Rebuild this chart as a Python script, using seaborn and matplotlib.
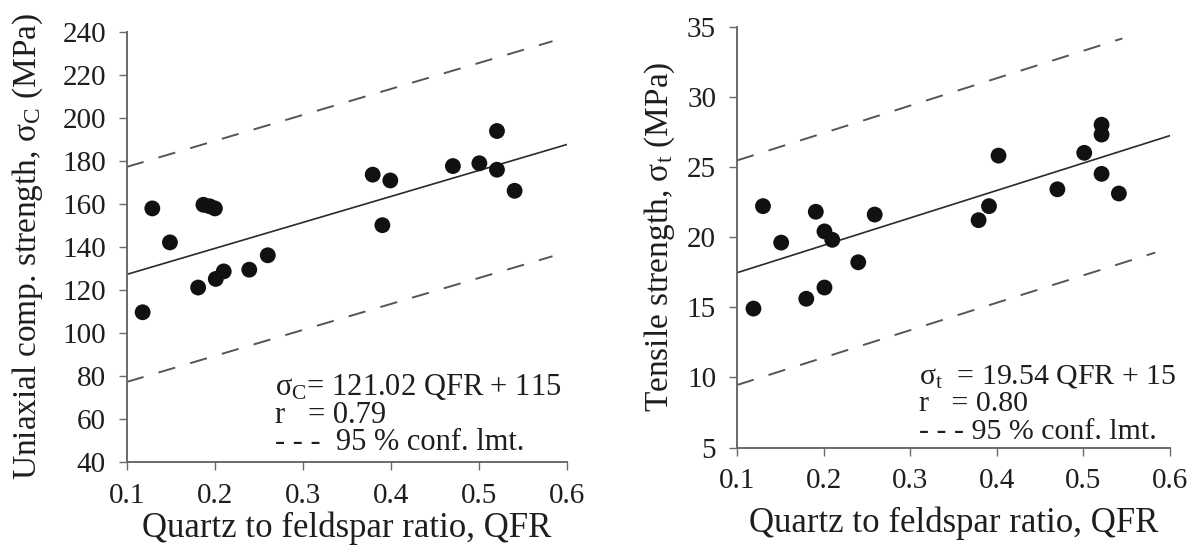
import numpy as np
import pandas as pd
import matplotlib
matplotlib.use("Agg")
import matplotlib.pyplot as plt
import seaborn as sns

# ---------------- data ----------------
qfr_c = [0.118, 0.129, 0.149, 0.181, 0.187, 0.194, 0.200, 0.201, 0.210, 0.239,
         0.260, 0.379, 0.390, 0.399, 0.470, 0.500, 0.520, 0.520, 0.540]
ucs = [109.5, 157.8, 142.0, 121.0, 159.5, 158.8, 157.8, 125.0, 128.5, 129.3,
       136.0, 173.5, 150.0, 170.8, 177.5, 178.8, 193.8, 175.8, 166.0]

qfr_t = [0.119, 0.130, 0.151, 0.180, 0.191, 0.201, 0.201, 0.210, 0.240, 0.259,
         0.379, 0.391, 0.402, 0.470, 0.501, 0.521, 0.521, 0.521, 0.541]
ts = [14.9, 22.2, 19.6, 15.6, 21.8, 20.4, 16.4, 19.8, 18.2, 21.6,
      21.2, 22.2, 25.8, 23.4, 26.0, 28.0, 27.3, 24.5, 23.1]

# regression: slope, intercept (as drawn), conf. offset
fit_c = [121.02, 115.0, 50.0]
fit_t = [19.54, 15.5, 8.0]
# x-extent of fit line and of upper/lower confidence lines
ext_c = [0.1, 0.6, 0.583, 0.583]
ext_t = [0.1, 0.6, 0.545, 0.583]

xticks = [0.1, 0.2, 0.3, 0.4, 0.5, 0.6]
yticks_c = [40, 60, 80, 100, 120, 140, 160, 180, 200, 220, 240]
yticks_t = [5, 10, 15, 20, 25, 30, 35]

ann_c = [r"σ$_{\rm C}$= 121.02 QFR + 115", "r   = 0.79", "- - -  95 % conf. lmt."]
ann_t = [r"σ$_{\rm t}$  = 19.54 QFR + 15", "r   = 0.80", "- - - 95 % conf. lmt."]

# ---------------- style ----------------
sns.set_style("ticks")
plt.rcParams["font.family"] = ["Liberation Serif", "DejaVu Serif"]
plt.rcParams["mathtext.fontset"] = "custom"
plt.rcParams["mathtext.rm"] = "Liberation Serif"
plt.rcParams["mathtext.it"] = "Liberation Serif:italic"
plt.rcParams["mathtext.bf"] = "Liberation Serif:bold"
plt.rcParams["axes.unicode_minus"] = False

TXT = "#1e1e1e"
SPINE = "#6a6a6a"

fig = plt.figure(figsize=(11.98, 5.51), dpi=100)
axL = fig.add_axes([0.1058, 0.1621, 0.3679, 0.7804])
axR = fig.add_axes([0.6152, 0.1878, 0.3614, 0.7641])


def draw(ax, x, y, fit, ext, yticks, ylabel, ann, ann_pos, ann_dy, ann_fs,
         ylab_x, xlab_y):
    slope, icpt, off = fit
    sns.scatterplot(x=x, y=y, ax=ax, color="#111111", s=130, edgecolor="none",
                    zorder=3, legend=False)
    xs = np.array([ext[0], ext[1]])
    sns.lineplot(x=xs, y=slope * xs + icpt, ax=ax, color="#2a2a2a", lw=1.2,
                 zorder=2, legend=False)
    xu = np.array([ext[0], ext[2]])
    xl = np.array([ext[0], ext[3]])
    sns.lineplot(x=xu, y=slope * xu + icpt + off, ax=ax, color="#555555",
                 lw=1.4, zorder=2, legend=False)
    ax.lines[-1].set_dashes((9.0, 8.0))
    sns.lineplot(x=xl, y=slope * xl + icpt - off, ax=ax, color="#555555",
                 lw=1.4, zorder=2, legend=False)
    ax.lines[-1].set_dashes((9.0, 8.0))

    ax.set_xlim(xticks[0], xticks[-1])
    ax.set_ylim(yticks[0], yticks[-1])
    ax.set_xticks(xticks)
    ax.set_xticklabels([f"{v:.1f}" for v in xticks])
    ax.set_yticks(yticks)
    ax.set_yticklabels([str(v) for v in yticks])
    ax.tick_params(axis="both", direction="out", length=6, width=1.0,
                   color=SPINE, labelsize=21, labelcolor=TXT, pad=9)
    ax.tick_params(axis="x", pad=9)
    for s in ["top", "right"]:
        ax.spines[s].set_visible(False)
    for s in ["left", "bottom"]:
        ax.spines[s].set_color(SPINE)
        ax.spines[s].set_linewidth(1.4)
    ax.set_xlabel("Quartz to feldspar ratio, QFR", fontsize=25, color=TXT)
    ax.set_ylabel(ylabel, fontsize=24, color=TXT)
    ax.yaxis.set_label_coords(ylab_x, 0.5)
    ax.xaxis.set_label_coords(0.5, xlab_y)
    x0, y0 = ann_pos
    for i, t in enumerate(ann):
        ax.text(x0, y0 - i * ann_dy, t, transform=ax.transAxes, fontsize=ann_fs,
                color=TXT, ha="left", va="baseline")


draw(axL, qfr_c, ucs, fit_c, ext_c, yticks_c,
     r"Uniaxial comp. strength, σ$_{\rm C}$ (MPa)", ann_c,
     (0.337, 0.155), 0.064, 22, -0.185, -0.115)
draw(axR, qfr_t, ts, fit_t, ext_t, yticks_t,
     r"Tensile strength, σ$_{\rm t}$ (MPa)", ann_t,
     (0.420, 0.152), 0.066, 21.5, -0.139, -0.14)

fig.savefig("out.png", dpi=100)
